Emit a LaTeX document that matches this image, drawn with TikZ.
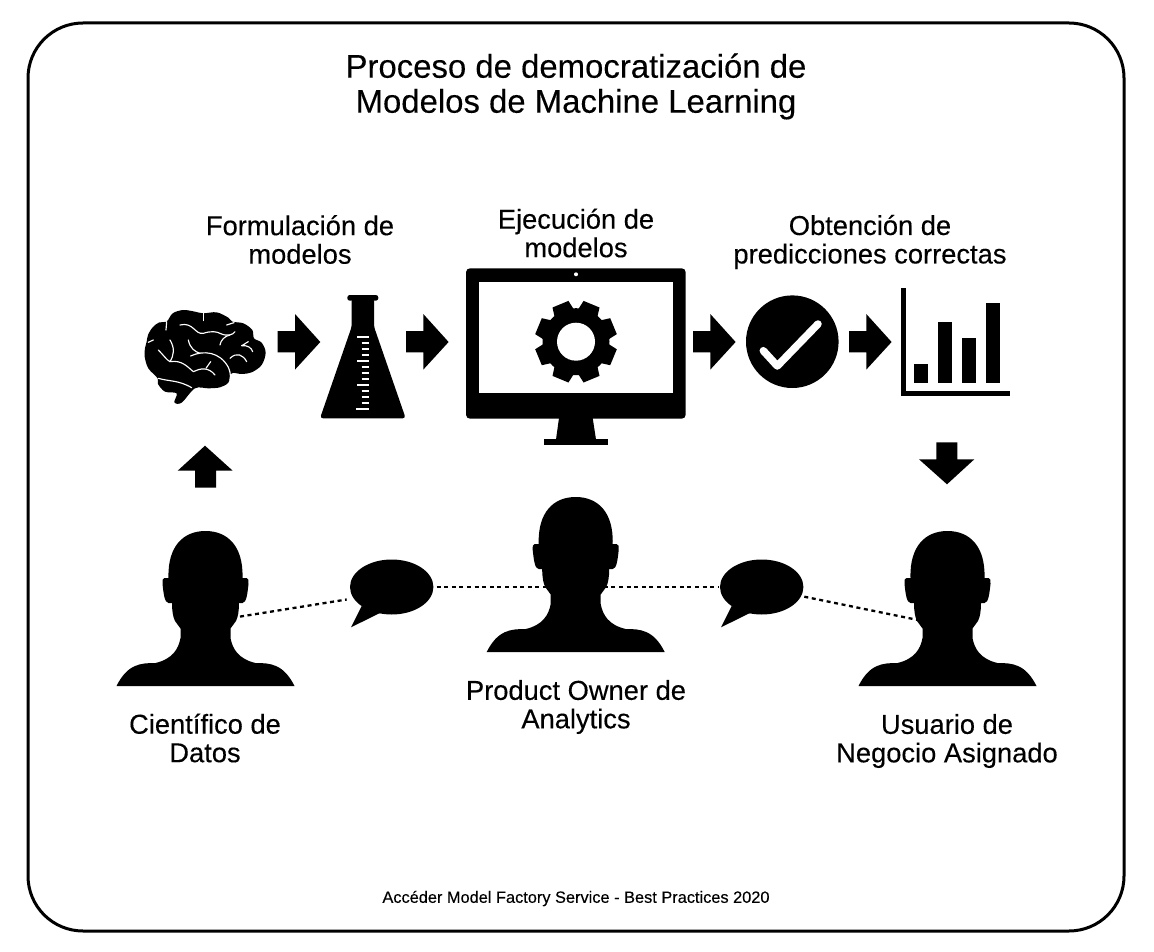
\documentclass[tikz,border=0pt]{standalone}
\usepackage{fontspec}
\setmainfont[FakeBold=0.25]{Liberation Sans}
\usetikzlibrary{shapes.geometric}
\tikzset{
  frame/.style={draw=black,line width=3pt,rounded corners=55pt,fill=white},
  titletext/.style={align=center,inner sep=0pt,font=\fontsize{32.9}{35}\selectfont},
  labeltext/.style={align=center,inner sep=0pt,font=\fontsize{27.3}{28.5}\selectfont},
  foottext/.style={inner sep=0pt,font=\fontsize{16.35}{18}\selectfont},
  dotline/.style={line width=2.3pt,dash pattern=on 4pt off 3.6pt},
  bubble/.style={ellipse,fill=black,inner sep=0pt,minimum width=83.4pt,minimum height=55pt},
  fissure/.style={draw=white,line width=1.15pt,line cap=round,line join=round},
  tick/.style={draw=white,line width=1.8pt},
  person/.pic={
    \fill (-37,47) .. controls (-38,15) and (-22,0) .. (0,0)
      .. controls (22,0) and (38,15) .. (37,47) -- (41,47)
      .. controls (43,47) and (43.5,50) .. (43,53)
      .. controls (42,62) and (41,72) .. (37,72) -- (33.5,72)
      .. controls (33.5,80) and (32.5,86) .. (30.5,90) -- (25,97.5) -- (25,107)
      .. controls (27,118) and (33,128) .. (50,132)
      .. controls (65,132) and (78,133) .. (89,155)
      -- (-89,155)
      .. controls (-78,133) and (-65,132) .. (-50,132)
      .. controls (-33,128) and (-27,118) .. (-25,107)
      -- (-25,97.5) -- (-30.5,90)
      .. controls (-32.5,86) and (-33.5,80) .. (-33.5,72) -- (-37,72)
      .. controls (-41,72) and (-42,62) .. (-43,53)
      .. controls (-43.5,50) and (-43,47) .. (-41,47) -- cycle;
  }
}
\begin{document}
\begin{tikzpicture}[x=1pt,y=-1pt]
\useasboundingbox (0,0) rectangle (1154,952);
\fill[white] (0,0) rectangle (1154,952);
\draw[frame] (28,23) rectangle (1124,931);

\node[titletext] (title) at (576,86.5) {Proceso de democratización de\\Modelos de Machine Learning};
\node[labeltext] (lblform) at (300,239.5) {Formulación de\\modelos};
\node[labeltext] (lblejec) at (576,233) {Ejecución de\\modelos};
\node[labeltext] (lblobt) at (870,242) {Obtención de\\predicciones correctas};
\node[labeltext] (lblcien) at (205,738) {Científico de\\Datos};
\node[labeltext] (lblprod) at (576,707) {Product Owner de\\Analytics};
\node[labeltext] (lblusu) at (947,741) {Usuario de\\Negocio Asignado};
\node[foottext] (foot) at (576,898.5) {Accéder Model Factory Service - Best Practices 2020};

% brain
\begin{scope}[shift={(120,280)},x=0.3333pt,y=-0.3333pt]
\fill plot[smooth cycle,tension=.55] coordinates {
 (140,125)(118,127)(98,142)(84,165)(80,185)(75,205)(74,230)(85,265)(113,295)
 (114,312)(135,335)(170,340)(163,367)(185,368)(225,325)(265,325)(300,322)(325,308)(335,280)
 (365,282)(395,277)(425,255)(437,218)(425,188)(402,175)(397,150)(370,130)(337,125)
 (325,113)(290,97)(250,100)(225,95)(190,90)(158,100)};
\draw[fissure] (140,125) -- (138,150);
\draw[fissure] (85,187) -- (100,180);
\draw[fissure] (250,100) -- (250,122);
\draw[fissure] (342,128) -- (320,135);
\draw[fissure] (180,135) .. controls (220,125) and (225,165) .. (250,160) .. controls (275,152) and (290,155) .. (300,160) .. controls (320,170) and (340,165) .. (345,155);
\draw[fissure] (300,195) .. controls (302,180) and (315,168) .. (330,165);
\draw[fissure] (205,180) .. controls (210,205) and (225,215) .. (240,220);
\draw[fissure] (212,228) .. controls (250,210) and (300,215) .. (325,262) .. controls (335,285) and (330,295) .. (330,300);
\draw[fissure] (115,210) .. controls (130,225) and (140,240) .. (150,245) .. controls (185,240) and (200,258) .. (220,275) .. controls (240,265) and (265,260) .. (285,285);
\draw[fissure] (150,180) .. controls (165,205) and (162,225) .. (150,245);
\draw[fissure] (258,265) -- (272,245);
\draw[fissure] (330,235) .. controls (350,215) and (370,225) .. (380,245);
\draw[fissure] (385,185) .. controls (375,190) and (372,195) .. (365,197);
\draw[fissure] (365,197) .. controls (385,195) and (395,205) .. (398,215);
\draw[fissure] (115,295) .. controls (150,305) and (175,300) .. (215,323);
\end{scope}

% flask
\fill[rounded corners=2.5pt] (347.3,295) rectangle (378.3,300.7);
\fill[rounded corners=3pt] (351.7,298) -- (374,298) -- (374,326.7) -- (405.7,418.3) -- (320,418.3) -- (351.7,326.7) -- cycle;
\foreach \yy/\xx in {337.3/357.3,343.3/361.7,349/361.7,355/361.7,361/357.3,367.3/361.7,373.3/361.7,379.3/361.7,385.3/357.3,391.3/361.7,397.3/361.7,403/361.7,409/356}
  \draw[tick] (\xx,\yy) -- (369.3,\yy);

% monitor
\fill[rounded corners=4pt] (466,268.3) rectangle (685.7,418.7);
\fill[white] (479,282) rectangle (672.7,392.7);
\fill[white] (576,274.3) circle (2);
\fill (559,418) -- (592.7,418) -- (596,439.5) -- (556,439.5) -- cycle;
\fill (544,439.3) rectangle (608,445);
\begin{scope}[shift={(576,341.7)}]
\foreach \a in {22.5,67.5,...,337.5}
  \fill (\a-19:32) -- (\a-12:41.5) -- (\a+12:41.5) -- (\a+19:32) -- cycle;
\fill (0,0) circle (33.5);
\fill[white] (0,0) circle (19);
\end{scope}

% check
\node[circle,fill=black,inner sep=0pt,minimum size=92.6pt] (check) at (792.3,341.7) {};
\draw[white,line width=7.5pt,line cap=round,line join=round] (763.3,350.7) -- (777.3,366) -- (818,324);

% chart
\fill (901,288.3) rectangle (905.7,395.7);
\fill (901,391) rectangle (1010,395.7);
\fill (914,364) rectangle (928,382.7);
\fill (938,322) rectangle (952,382.7);
\fill (962,338) rectangle (976,382.7);
\fill (986,303) rectangle (1000,382.7);

% block arrows
\foreach \x in {277.7,406,693,849}
 \fill (\x,331.2) -- ++(17.3,0) -- ++(0,-17.2) -- ++(25.3,28) -- ++(-25.3,27.6) -- ++(0,-17.2) -- ++(-17.3,0) -- cycle;
\fill (205,445.7) -- (232.7,470.7) -- (216,470.7) -- (216,487.7) -- (195,487.7) -- (195,470.7) -- (177.7,470.7) -- cycle;
\fill (947,484.3) -- (974.3,459.3) -- (957.3,459.3) -- (957.3,442.3) -- (936.3,442.3) -- (936.3,459.3) -- (919,459.3) -- cycle;

% connectors
\node[bubble] (bubbleL) at (391.7,587) {};
\node[bubble] (bubbleR) at (761.7,587) {};
\fill (361.7,606) -- (351,627.3) -- (380,613) -- cycle;
\fill (731.7,606) -- (721,627.3) -- (750,613) -- cycle;
\coordinate (earL) at (225,619);
\coordinate (nearL) at (346.7,599.5);
\coordinate (nearR) at (804.3,596.7);
\coordinate (earR) at (922,620.8);
\draw[dotline] (earL) -- (nearL);
\draw[dotline] ([xshift=3pt]bubbleL.east) -- ([xshift=-1pt]bubbleR.west);
\draw[dotline] (nearR) -- (earR);

% people
\pic at (205.5,531) {person};
\pic at (575.7,497) {person};
\pic at (947.5,531) {person};
\end{tikzpicture}
\end{document}
